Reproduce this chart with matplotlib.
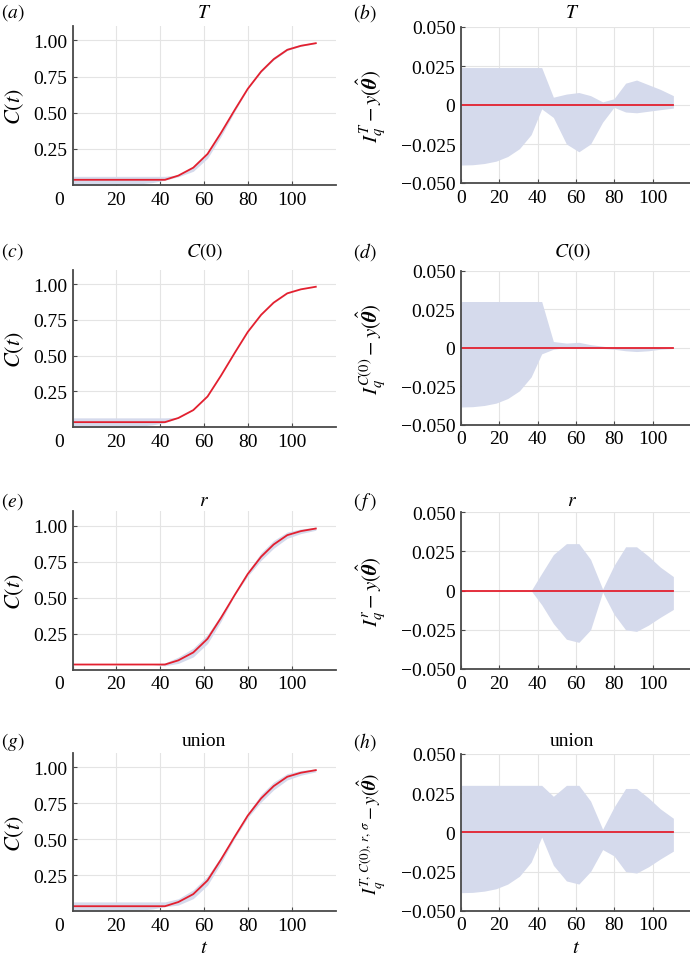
import numpy as np
import matplotlib
matplotlib.use("Agg")
import matplotlib.pyplot as plt
import matplotlib.transforms as mtransforms

plt.rcParams['font.family'] = ['Liberation Serif', 'DejaVu Serif']
plt.rcParams['mathtext.fontset'] = 'stix'

# time points of the model solution
t = [0, 6.1, 12.2, 18.3, 24.4, 30.5, 36.6, 42.1, 48.2, 55.0, 61.5,
     67.6, 73.9, 79.8, 85.9, 91.6, 97.8, 104.0, 110.8]

# MLE solution C(t)
C_hat = [0.036, 0.036, 0.036, 0.036, 0.036, 0.036, 0.036, 0.036, 0.065,
         0.12, 0.215, 0.36, 0.52, 0.665, 0.785, 0.87, 0.935, 0.963, 0.981]

# prediction set bounds minus MLE solution, one pair per parameter
T_hi = [0.024, 0.024, 0.024, 0.024, 0.024, 0.024, 0.024, 0.024, 0.005,
        0.007, 0.008, 0.006, 0.002, 0.004, 0.014, 0.016, 0.013, 0.010, 0.006]
T_lo = [-0.0385, -0.0383, -0.0375, -0.036, -0.033, -0.028, -0.019, -0.0025, -0.008,
        -0.025, -0.030, -0.025, -0.011, -0.0015, -0.0045, -0.005, -0.004, -0.003, -0.002]

C0_hi = [0.030, 0.030, 0.030, 0.030, 0.030, 0.030, 0.030, 0.030, 0.004,
         0.003, 0.0035, 0.002, 0.001, 0.0, 0.0, 0.0, 0.0, 0.0, 0.0]
C0_lo = [-0.0385, -0.0383, -0.0375, -0.036, -0.033, -0.028, -0.019, -0.004, -0.001,
         0.0, 0.0, 0.0, -0.0005, -0.001, -0.002, -0.0025, -0.002, -0.001, -0.0005]

r_hi = [0.0, 0.0, 0.0, 0.0, 0.0, 0.0, 0.0, 0.011, 0.023,
        0.030, 0.030, 0.020, 0.001, 0.016, 0.028, 0.028, 0.022, 0.015, 0.009]
r_lo = [0.0, 0.0, 0.0, 0.0, 0.0, 0.0, 0.0, -0.009, -0.021,
        -0.031, -0.033, -0.025, -0.001, -0.015, -0.025, -0.026, -0.022, -0.017, -0.012]

U_hi = [0.030, 0.030, 0.030, 0.030, 0.030, 0.030, 0.030, 0.030, 0.023,
        0.030, 0.030, 0.020, 0.002, 0.016, 0.028, 0.028, 0.022, 0.015, 0.009]
U_lo = [-0.0385, -0.0383, -0.0375, -0.036, -0.033, -0.028, -0.019, -0.003, -0.021,
        -0.031, -0.033, -0.025, -0.011, -0.015, -0.025, -0.026, -0.022, -0.017, -0.012]

titles = [r'$T$', r'$C(0)$', r'$r$', 'union']
left_tags = [r'$(a)$', r'$(c)$', r'$(e)$', r'$(g)$']
right_tags = [r'$(b)$', r'$(d)$', r'$(\,f\,)$', r'$(h)$']
theta = r'y(\hat{\boldsymbol{\theta}})'
right_ylabels = [r'$I_q^{T}-' + theta + '$',
                 r'$I_q^{C(0)}-' + theta + '$',
                 r'$I_q^{r}-' + theta + '$',
                 r'$I_q^{T,\,C(0),\,r,\,\sigma}-' + theta + '$']
right_ylabel_sizes = [15, 15, 15, 13.5]
bounds = [(T_lo, T_hi), (C0_lo, C0_hi), (r_lo, r_hi), (U_lo, U_hi)]

red = '#e3202f'
band = '#d5daec'
grid_c = '#e4e4e4'
spine_c = '#4a4a4a'

W, H = 690, 962
fig = plt.figure(figsize=(W / 100, H / 100), dpi=100)


def axes_px(x0, x1, ytop, ybot):
    return fig.add_axes([x0 / W, 1 - ybot / H, (x1 - x0) / W, (ybot - ytop) / H])


def style(ax):
    for s in ['top', 'right']:
        ax.spines[s].set_visible(False)
    for s in ['left', 'bottom']:
        ax.spines[s].set_color(spine_c)
        ax.spines[s].set_linewidth(1.3)
    ax.grid(True, color=grid_c, linewidth=0.8)
    ax.set_axisbelow(True)
    ax.tick_params(direction='in', length=3, width=0.8, color=spine_c,
                   labelsize=14, pad=4)


left_rows = [(27, 186), (270.7, 428.3), (512.4, 670.7), (754, 912.4)]
right_rows = [(28, 184), (271.7, 425.7), (513.3, 670), (755, 911.7)]
tag_y = [13, 252, 502, 742]
shift0 = mtransforms.ScaledTranslation(-0.13, 0, fig.dpi_scale_trans)

t_arr = np.array(t)
C_arr = np.array(C_hat)

for i in range(4):
    lo, hi = np.array(bounds[i][0]), np.array(bounds[i][1])

    # left: model solution with prediction band
    ax = axes_px(72.5, 336, *left_rows[i])
    style(ax)
    ax.fill_between(t_arr, C_arr + lo, C_arr + hi, color=band, lw=0)
    ax.plot(t_arr, C_arr, color=red, lw=1.3)
    ax.set_xlim(0, 120)
    ax.set_ylim(0, 1.1)
    ax.set_xticks([0, 20, 40, 60, 80, 100])
    ax.set_yticks([0.25, 0.5, 0.75, 1.0], ['0.25', '0.50', '0.75', '1.00'])
    fig.canvas.draw()
    lab0 = ax.get_xticklabels()[0]
    lab0.set_transform(lab0.get_transform() + shift0)
    ax.set_ylabel(r'$C(t)$', fontsize=16, va='center')
    ax.yaxis.set_label_coords(-0.22, 0.5)
    fig.text(1 / W, 1 - tag_y[i] / H, left_tags[i], fontsize=14,
             ha='left', va='center')
    fig.text(204 / W, 1 - tag_y[i] / H, titles[i], fontsize=14,
             ha='center', va='center')

    # right: difference between prediction set and MLE
    ax2 = axes_px(461, 691, *right_rows[i])
    style(ax2)
    ax2.fill_between(t_arr, lo, hi, color=band, lw=0)
    ax2.plot(t_arr, np.zeros_like(t_arr), color=red, lw=1.3)
    ax2.set_xlim(0, 120)
    ax2.set_ylim(-0.05, 0.05)
    ax2.set_xticks([0, 20, 40, 60, 80, 100])
    ax2.set_yticks([-0.05, -0.025, 0, 0.025, 0.05],
                   ['\u22120.050', '\u22120.025', '0', '0.025', '0.050'])
    ax2.set_ylabel(right_ylabels[i], fontsize=right_ylabel_sizes[i], va='center')
    ax2.yaxis.set_label_coords(-0.39, 0.5)
    fig.text(365 / W, 1 - tag_y[i] / H, right_tags[i], fontsize=14,
             ha='center', va='center')
    fig.text(572 / W, 1 - tag_y[i] / H, titles[i], fontsize=14,
             ha='center', va='center')

    if i == 3:
        ax.set_xlabel(r'$t$', fontsize=15, va='center')
        ax.xaxis.set_label_coords(0.5, -0.225)
        ax2.set_xlabel(r'$t$', fontsize=15, va='center')
        ax2.xaxis.set_label_coords(0.5, -0.235)

fig.savefig('out.png', dpi=100)
